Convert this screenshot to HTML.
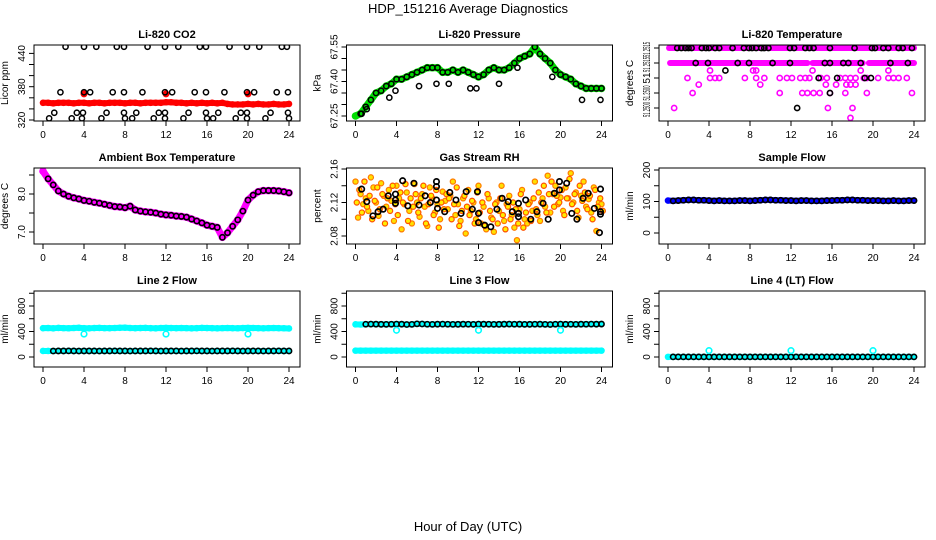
<!DOCTYPE html>
<html><head><meta charset="utf-8"><style>
html,body{margin:0;padding:0;background:#fff;}
svg{display:block;font-family:"Liberation Sans",Arial,sans-serif;}
</style></head><body>
<svg id="chart" width="936" height="540" viewBox="0 0 936 540">
<rect width="936" height="540" fill="#fff"/>
<text x="468" y="13" font-size="13" text-anchor="middle">HDP_151216  Average Diagnostics</text>
<text x="468" y="531" font-size="13" text-anchor="middle">Hour of Day (UTC)</text>
</svg>
<script>
const xTicks=[0,4,8,12,16,20,24];
// CO2
const co2Red=[351,351,350,351,351,351,350,351,351,350,351,351,350,351,351,351,350,351,351,350,351,351,351,351,352,352,351,351,350,351,350,351,350,351,350,351,349,348,348,348,349,348,349,348,348,349,348,348,349];
const co2RedBigHours=[4,12,20];
const co2RedBigVals=[367,367,367];
const co2BlackHours=[2.2,4.0,5.2,7.2,7.9,10.2,11.9,13.2,15.3,15.9,18.2,19.9,21.1,23.3,23.8, 1.7,4.0,4.6,6.8,7.9,9.7,11.9,12.6,14.8,15.9,17.7,19.9,20.6,22.8,23.9, 1.1,3.3,3.9,6.2,7.9,9.1,11.3,11.9,14.2,15.9,17.1,19.3,19.9,22.2,23.9, 0.6,2.8,3.8,5.7,8.0,8.7,10.8,11.9,13.7,16.0,16.6,18.8,19.9,21.7,24.0];
const co2BlackVals=[452,452,452,452,452,452,452,452,452,452,452,452,452,452,452, 370,370,370,370,370,370,370,370,370,370,370,370,370,370,370, 333,333,333,333,333,333,333,333,333,333,333,333,333,333,333, 323,323,323,323,323,323,323,323,323,323,323,323,323,323,323];
// Pressure
const pressGreen=[67.25,67.26,67.29,67.32,67.35,67.36,67.38,67.39,67.41,67.41,67.42,67.43,67.44,67.45,67.46,67.46,67.46,67.44,67.44,67.45,67.44,67.45,67.44,67.43,67.42,67.43,67.45,67.46,67.45,67.45,67.46,67.48,67.50,67.51,67.52,67.55,67.52,67.50,67.48,67.45,67.43,67.42,67.41,67.39,67.38,67.37,67.37,67.37,67.37];
const pressOutHours=[0.6,1.1,3.3,3.9,6.2,7.9,9.1,11.2,11.8,14.0,15.8,19.2,22.1,23.9];
const pressOutVals=[67.26,67.28,67.33,67.36,67.38,67.39,67.39,67.37,67.37,67.39,67.46,67.42,67.32,67.32];
// Li-820 temperature
const tempTopStart=[0.1];
const tempTopEnd=[24];
const tempMidStart=[0.2,14.1,19.6];
const tempMidEnd=[13.6,19.0,24];
const tempMagHours=[1.9,4.1,4.6,5.0,7.5,8.6,9.4,10.9,11.6,12.1,12.9,13.4,13.8,14.9,15.5,16.8,17.3,17.8,18.3,19.1,19.4,20.5,21.5,22.0,22.5,23.3, 2.4,10.9,13.1,13.6,14.2,14.8,15.8,17.3,19.4,23.8, 4.1,8.3,8.6,14.1,18.8,21.5, 3.0,9.0,15.4,16.4,17.4,17.8,18.3, 0.6,15.6,18.0, 17.8];
const tempMagVals=[51.2505,51.2505,51.2505,51.2505,51.2505,51.2505,51.2505,51.2505,51.2505,51.2505,51.2505,51.2505,51.2505,51.2505,51.2505,51.2505,51.2505,51.2505,51.2505,51.2505,51.2505,51.2505,51.2505,51.2505,51.2505,51.2505, 51.2500,51.2500,51.2500,51.2500,51.2500,51.2500,51.2500,51.2500,51.2500,51.2500, 51.25075,51.25075,51.25075,51.25075,51.25075,51.25075, 51.25028,51.25028,51.25028,51.25028,51.25028,51.25028,51.25028, 51.2495,51.2495,51.2495, 51.24917];
const tempBlackHours=[0.9,1.3,1.7,2.0,2.3,3.3,3.7,4.0,4.6,5.0,6.3,7.4,7.9,8.2,8.6,9.1,9.4,9.8,11.9,12.3,13.4,13.8,14.2,15.8,18.2,19.9,20.2,21.0,21.5,22.5,22.9,23.8, 2.7,3.9,6.8,7.9,10.2,11.9,15.3,15.8,17.1,17.6,18.8,21.7,23.4, 5.6, 14.7,16.5,19.2,19.8, 15.8, 12.6];
const tempBlackVals=[51.2515,51.2515,51.2515,51.2515,51.2515,51.2515,51.2515,51.2515,51.2515,51.2515,51.2515,51.2515,51.2515,51.2515,51.2515,51.2515,51.2515,51.2515,51.2515,51.2515,51.2515,51.2515,51.2515,51.2515,51.2515,51.2515,51.2515,51.2515,51.2515,51.2515,51.2515,51.2515, 51.2510,51.2510,51.2510,51.2510,51.2510,51.2510,51.2510,51.2510,51.2510,51.2510,51.2510,51.2510,51.2510, 51.25075, 51.2505,51.2505,51.2505,51.2505, 51.2500, 51.2495];
const tempTickVals=[51.2515,51.2510,51.2505,51.2500,51.2495];
const tempLabelVals=[51.25145,51.25095,51.2505,51.2500,51.24945];
const tempTickLabels=["51.2515","51.2515","51","51.2500","51.2500"];
// Ambient
const ambient=[8.60,8.40,8.24,8.08,8.00,7.94,7.90,7.87,7.83,7.81,7.78,7.76,7.73,7.70,7.67,7.66,7.64,7.68,7.58,7.55,7.53,7.52,7.50,7.47,7.45,7.44,7.42,7.41,7.39,7.34,7.29,7.24,7.18,7.15,7.12,6.86,6.98,7.15,7.32,7.55,7.84,7.97,8.06,8.09,8.09,8.09,8.08,8.06,8.03];
// RH
const rh1=[2.145,2.102,2.130,2.118,2.125,2.110,2.150,2.138,2.120,2.104,2.143,2.128,2.115,2.135,2.122,2.098,2.140,2.125,2.088,2.118,2.132,2.110,2.095,2.142,2.120,2.103,2.130,2.115,2.092,2.138,2.125,2.108,2.118,2.100,2.133,2.122,2.112,2.128,2.145,2.105,2.118,2.098,2.125,2.083,2.135,2.110,2.120,2.100,2.140,2.095,2.115,2.088,2.125,2.102,2.085,2.120,2.110,2.140,2.098,2.118,2.128,2.105,2.090,2.075,2.112,2.135,2.100,2.095,2.120,2.110,2.145,2.105,2.098,2.125,2.115,2.152,2.108,2.130,2.140,2.118,2.126,2.110,2.138,2.125,2.155,2.120,2.132,2.102,2.128,2.145,2.115,2.124,2.108,2.138,2.086,2.120,2.118];
const rh2=[2.120,2.135,2.108,2.145,2.115,2.128,2.100,2.122,2.138,2.112,2.130,2.095,2.125,2.110,2.140,2.118,2.105,2.132,2.120,2.142,2.098,2.125,2.115,2.130,2.108,2.125,2.140,2.095,2.118,2.128,2.105,2.135,2.090,2.120,2.112,2.130,2.125,2.100,2.118,2.138,2.092,2.110,2.128,2.115,2.105,2.122,2.095,2.132,2.108,2.120,2.092,2.130,2.110,2.100,2.118,2.095,2.125,2.105,2.088,2.115,2.100,2.120,2.112,2.095,2.130,2.090,2.108,2.118,2.098,2.125,2.112,2.132,2.120,2.140,2.108,2.130,2.145,2.115,2.128,2.120,2.135,2.105,2.125,2.148,2.118,2.130,2.110,2.140,2.122,2.132,2.112,2.128,2.100,2.135,2.115,2.125,2.110];
const rhBlackHours=[0.6,1.1,1.7,2.2,2.7,3.2,3.9,3.9,3.9,4.6,5.1,5.7,6.2,6.8,7.3,7.9,8.0,7.9,7.9,8.7,9.2,9.8,10.3,10.8,11.4,11.9,12.0,12.0,12.6,13.2,13.8,14.3,14.9,15.3,15.9,15.9,15.9,16.6,17.1,17.7,18.3,18.8,19.4,19.9,19.9,20.6,21.1,21.6,22.2,22.7,23.3,23.9,23.9,23.9,23.8];
const rhBlackVals=[2.136,2.121,2.104,2.109,2.112,2.128,2.130,2.123,2.119,2.146,2.116,2.143,2.117,2.128,2.120,2.123,2.113,2.139,2.145,2.109,2.132,2.123,2.107,2.133,2.112,2.133,2.107,2.096,2.093,2.091,2.112,2.125,2.121,2.109,2.119,2.107,2.103,2.123,2.100,2.109,2.119,2.100,2.131,2.135,2.145,2.143,2.107,2.100,2.125,2.131,2.113,2.106,2.109,2.136,2.084];
// Sample flow
const sampleFlow=[103,102,103,104,105,105,104,104,103,102,103,102,102,102,103,103,102,103,104,105,105,104,104,103,103,102,103,103,102,102,102,103,103,104,104,105,105,104,104,103,103,103,102,102,103,102,102,103,103];
// Line flows
const line2Upper=[452,455,450,456,453,451,455,458,452,450,454,456,453,452,455,458,460,455,452,454,456,452,450,455,457,454,452,455,453,450,452,456,454,452,450,453,455,452,451,454,456,455,452,450,453,455,452,451,448];
const line2Lower=[95,95,94,95,95,96,95,94,95,95,95,94,95,95,96,95,95,94,95,95,95,96,95,94,95,95,95,94,95,95,96,95,95,94,95,95,95,96,95,94,95,95,95,94,95,95,96,95,95];
const line3Upper=[512,510,514,516,515,513,512,514,516,515,510,512,520,518,514,512,515,516,514,512,513,515,514,512,516,515,514,512,513,515,516,514,515,512,513,514,515,512,510,514,516,513,514,512,515,514,516,515,517];
const line3Lower=[100,100,100,100,100,100,100,100,100,100,100,100,100,100,100,100,100,100,100,100,100,100,100,100,100,100,100,100,100,100,100,100,100,100,100,100,100,100,100,100,100,100,100,100,100,100,100,100,100];
const line4=[2,2,2,2,2,2,2,2,2,2,2,2,2,2,2,2,2,2,2,2,2,2,2,2,2,2,2,2,2,2,2,2,2,2,2,2,2,2,2,2,2,2,2,2,2,2,2,2,2];
const spikeHours=[4,12,20];
const line2Spike=[360,360,360];
const line3Spike=[420,420,420];
const line4Spike=[100,100,100];

const NS="http://www.w3.org/2000/svg";
const svg=document.getElementById('chart');
function mk(tag,attrs,parent){const e=document.createElementNS(NS,tag);for(const k in attrs)e.setAttribute(k,attrs[k]);(parent||svg).appendChild(e);return e;}
function half(i){return i*0.5;}

function panel(col,row,name,title,ylab,v1,p1,v2,p2,yticks,ylabelVals,ylabelTexts,compress){
  const x0=43+col*312.5;
  const left=x0-9,right=x0+257,top=45+row*123,bottom=top+76;
  const g=mk('g',{});
  
  
  const sx=h=>x0+h*10.25;
  const sy=v=>p1+(v-v1)*(p2-p1)/(v2-v1);
  const t=mk('text',{x:(left+right)/2,y:top-7,'font-size':11,'font-weight':'bold','text-anchor':'middle'},g);
  t.textContent=title;
  
  
  const clip=mk('clipPath',{id:'c'+name},g);
  mk('rect',{x:left,y:top,width:right-left,height:bottom-top},clip);
  const plot=mk('g',{'clip-path':'url(#c'+name+')'},g);
  
  
  const box=mk('rect',{x:left,y:top,width:right-left,height:bottom-top,fill:'none',stroke:'#000','stroke-width':1},g);
  
  
  const xa=mk('g',{},g);
  
  
  xTicks.forEach(h=>{
    mk('line',{x1:sx(h),x2:sx(h),y1:bottom,y2:bottom+5,stroke:'#000'},xa);
    const l=mk('text',{x:sx(h),y:bottom+17,'font-size':10,'text-anchor':'middle'},xa);
    l.textContent=h;
  });
  const ya=mk('g',{},g);
  
  
  yticks.forEach(v=>{mk('line',{x1:left-5,x2:left,y1:sy(v),y2:sy(v),stroke:'#000'},ya);});
  ylabelVals.forEach((v,i)=>{
    const y=sy(v),x=left-9;
    const attrs={x:x,y:y,'font-size':10,'text-anchor':'middle',transform:`rotate(-90 ${x} ${y})`};
    if(compress && ylabelTexts[i].length>3){attrs.textLength=15;attrs.lengthAdjust='spacingAndGlyphs';}
    const l=mk('text',attrs,ya);
    l.textContent=ylabelTexts[i];
  });
  const yt=mk('text',{x:left-26,y:(top+bottom)/2,'font-size':10,'text-anchor':'middle',transform:`rotate(-90 ${left-26} ${(top+bottom)/2})`},g);
  yt.textContent=ylab;
  
  
  return {sx,sy,plot};
}
function band(p,hours,vals,color,sw,name){
  const g=mk('g',{},p.plot);
  
  
  mk('polyline',{points:hours.map((h,i)=>p.sx(h)+','+p.sy(vals[i])).join(' '),fill:'none',stroke:color,'stroke-width':sw,'stroke-linejoin':'round','stroke-linecap':'round'},g);
  hours.forEach((h,i)=>{mk('circle',{cx:p.sx(h),cy:p.sy(vals[i]),r:sw/2+0.3,fill:color},g);});
}
function circles(p,hours,vals,color,r,sw,name,fill){
  const g=mk('g',{},p.plot);
  
  
  hours.forEach((h,i)=>{mk('circle',{cx:p.sx(h),cy:p.sy(vals[i]),r:r,fill:fill||'none',stroke:color,'stroke-width':sw},g);});
}
const H49=co2Red.map((v,i)=>half(i));

// Panel 1: CO2
let p=panel(0,0,'co2','Li-820 CO2','Licor ppm',320,120,440,53.4,[320,340,360,380,400,420,440],[320,380,440],['320','380','440']);
band(p,H49,co2Red,'#ff0000',6,'co2-red-series');
circles(p,co2RedBigHours,co2RedBigVals,'#ff0000',3,1,'co2-red-highlights','#ff0000');
circles(p,co2BlackHours,co2BlackVals,'#000',2.6,1.5,'co2-black-points');

// Panel 2: Pressure
p=panel(1,0,'pressure','Li-820 Pressure','kPa',67.25,116,67.55,47,[67.25,67.30,67.35,67.40,67.45,67.50,67.55],[67.25,67.40,67.55],['67.25','67.40','67.55']);
band(p,H49,pressGreen,'#00dd00',7,'pressure-green-series');
circles(p,H49.slice(1),pressGreen.slice(1),'#000',2.6,1.5,'pressure-black-points');
circles(p,pressOutHours,pressOutVals,'#000',2.6,1.5,'pressure-black-outliers');

// Panel 3: Li-820 temperature
p=panel(2,0,'li820-temp','Li-820 Temperature','degrees C',51.2515,48,51.2500,93,tempTickVals,tempLabelVals,tempTickLabels,true);
{
 const g=mk('g',{},p.plot);
 
 
 tempTopStart.forEach((s,i)=>mk('line',{x1:p.sx(s),x2:p.sx(tempTopEnd[i]),y1:p.sy(51.2515),y2:p.sy(51.2515),stroke:'#ff00ff','stroke-width':6,'stroke-linecap':'round'},g));
 tempMidStart.forEach((s,i)=>mk('line',{x1:p.sx(s),x2:p.sx(tempMidEnd[i]),y1:p.sy(51.2510),y2:p.sy(51.2510),stroke:'#ff00ff','stroke-width':6,'stroke-linecap':'round'},g));
}
circles(p,tempMagHours,tempMagVals,'#ff00ff',2.6,1.6,'temp-magenta-points');
circles(p,tempBlackHours,tempBlackVals,'#000',2.6,1.6,'temp-black-points');

// Panel 4: Ambient
p=panel(0,1,'ambient','Ambient Box Temperature','degrees C',7.0,232,8.0,194,[7.0,7.5,8.0,8.5],[7.0,8.0],['7.0','8.0']);
band(p,H49,ambient,'#ff00ff',7,'ambient-magenta-series');
circles(p,H49.slice(1),ambient.slice(1),'#000',2.6,1.6,'ambient-black-points');

// Panel 5: RH
p=panel(1,1,'rh','Gas Stream RH','percent',2.08,236,2.16,169,[2.08,2.10,2.12,2.14,2.16],[2.08,2.12,2.16],['2.08','2.12','2.16']);
circles(p,rh1.map((v,i)=>i*0.25),rh1,'#ff7a00',2.6,1.2,'rh-orange-points-a','#ffe000');
circles(p,rh2.map((v,i)=>i*0.25+0.125),rh2,'#ff5000',2.6,1.2,'rh-orange-points-b','#ffee00');
circles(p,rhBlackHours,rhBlackVals,'#000',2.7,1.7,'rh-black-points');

// Panel 6: Sample flow
p=panel(2,1,'sample-flow','Sample Flow','ml/min',0,233,200,170,[0,50,100,150,200],[0,100,200],['0','100','200']);
band(p,H49,sampleFlow,'#0000ff',6,'sample-flow-blue-series');
circles(p,H49.slice(1),sampleFlow.slice(1),'#000',2.6,1.6,'sample-flow-black-points');

// Panel 7: Line 2
const fy=[0,200,400,600,800,1000];
p=panel(0,2,'line2','Line 2 Flow','ml/min',0,357,800,306,fy,[0,400,800],['0','400','800']);
band(p,H49,line2Upper,'#00ffff',6,'line2-upper-cyan');
band(p,H49,line2Lower,'#00ffff',6,'line2-lower-cyan');
circles(p,H49.slice(2),line2Lower.slice(2),'#000',2.6,1.6,'line2-black-points');
circles(p,spikeHours,line2Spike,'#00ffff',2.8,1.6,'line2-dips');

// Panel 8: Line 3
p=panel(1,2,'line3','Line 3 Flow','ml/min',0,357,800,306,fy,[0,400,800],['0','400','800']);
band(p,H49,line3Upper,'#00ffff',6,'line3-upper-cyan');
band(p,H49,line3Lower,'#00ffff',6,'line3-lower-cyan');
circles(p,H49.slice(2),line3Upper.slice(2),'#000',2.6,1.6,'line3-black-points');
circles(p,spikeHours,line3Spike,'#00ffff',2.8,1.6,'line3-dips');

// Panel 9: Line 4
p=panel(2,2,'line4','Line 4 (LT) Flow','ml/min',0,357,800,306,fy,[0,400,800],['0','400','800']);
band(p,H49,line4,'#00ffff',6,'line4-cyan');
circles(p,H49.slice(1),line4.slice(1),'#000',2.6,1.6,'line4-black-points');
circles(p,spikeHours,line4Spike,'#00ffff',2.8,1.6,'line4-spikes');
</script>
</body></html>
